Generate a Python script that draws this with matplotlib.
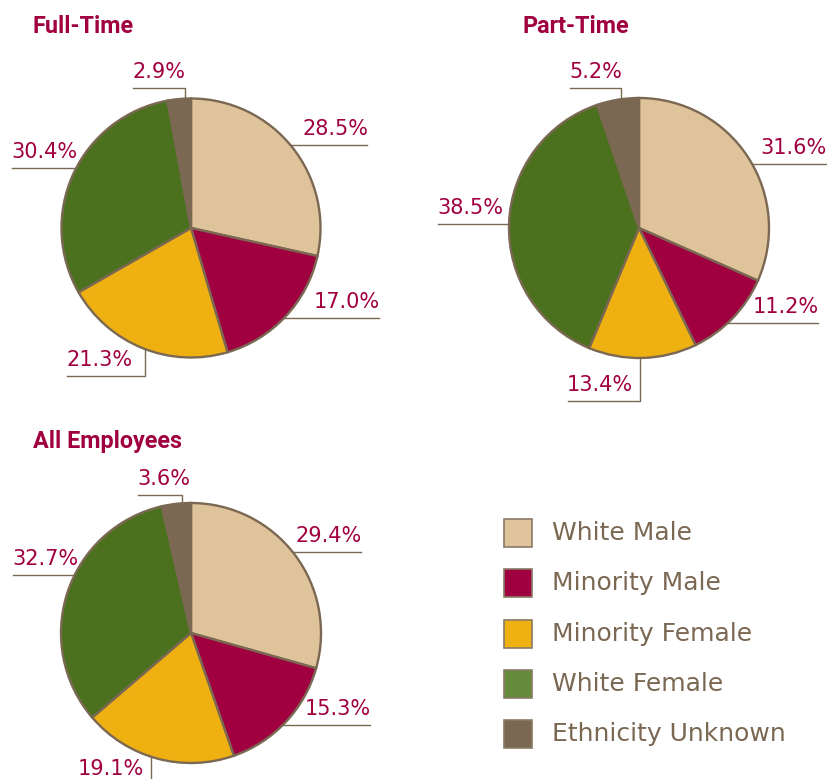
import numpy as np
import matplotlib.pyplot as plt
from matplotlib.patches import Rectangle

categories = ['White Male', 'Minority Male', 'Minority Female', 'White Female', 'Ethnicity Unknown']
full_time = [28.5, 17.0, 21.3, 30.4, 2.9]
part_time = [31.6, 11.2, 13.4, 38.5, 5.2]
all_employees = [29.4, 15.3, 19.1, 32.7, 3.6]

pie_colors = ['#dfc39a', '#a00040', '#efb112', '#4b711e', '#7b6853']
legend_colors = ['#dfc39a', '#a00040', '#efb112', '#648c3a', '#7b6853']
edge = '#7b6853'
red = '#a0003f'

W, H = 827, 779
fig = plt.figure(figsize=(W / 100, H / 100), dpi=100)
ax = fig.add_axes([0, 0, 1, 1])


def Y(y):
    # picture rows -> data y
    return H - y


# (title, values, title pos, centre, radius, leaders)
# leader: ('right', y_line, x_end) / ('left', y_line, x_start)
#         ('top'|'bottom', x_vert, y_line, x_start)
pies = [
    ('Full-Time', full_time, (33, 33), (191, 228), 129.5,
     [('right', 145, 367), ('right', 318, 379), ('bottom', 145, 376, 67),
      ('left', 168, 12), ('top', 185, 88, 133)]),
    ('Part-Time', part_time, (522, 33), (639, 228), 130,
     [('right', 164, 826), ('right', 323, 818), ('bottom', 640, 401, 568),
      ('left', 224, 438), ('top', 621, 88, 570)]),
    ('All Employees', all_employees, (33, 448), (191, 633), 130,
     [('right', 552, 361), ('right', 725, 370), ('bottom', 151, 785, 79),
      ('left', 575, 13), ('top', 182, 495, 138)]),
]

title_font = ['Roboto', 'DejaVu Sans']

for title, vals, tpos, (cx, cy), r, leaders in pies:
    ax.pie(vals, colors=pie_colors, center=(cx, Y(cy)), radius=r,
           startangle=90, counterclock=False,
           wedgeprops=dict(edgecolor=edge, linewidth=1.7))
    ax.text(tpos[0], Y(tpos[1]), title, fontsize=16.8, fontweight='bold',
            family=title_font, color=red, ha='left', va='baseline')
    for v, ld in zip(vals, leaders):
        lab = f'{v:.1f}%'
        kind = ld[0]
        if kind in ('right', 'left'):
            yl = ld[1]
            dx = np.sqrt(max(r ** 2 - (yl - cy) ** 2, 0))
            if kind == 'right':
                xe = cx + dx
                ax.plot([xe, ld[2]], [Y(yl), Y(yl)], color=edge, lw=1, zorder=0)
                ax.text(ld[2] + 1, Y(yl - 10), lab, ha='right', va='baseline',
                        fontsize=15, color=red)
            else:
                xe = cx - dx
                ax.plot([ld[2], xe], [Y(yl), Y(yl)], color=edge, lw=1, zorder=0)
                ax.text(ld[2] - 1, Y(yl - 10), lab, ha='left', va='baseline',
                        fontsize=15, color=red)
        else:
            xv, yl, xs = ld[1], ld[2], ld[3]
            dy = np.sqrt(max(r ** 2 - (xv - cx) ** 2, 0))
            ye = cy - dy if kind == 'top' else cy + dy
            ax.plot([xs, xv, xv], [Y(yl), Y(yl), Y(ye)], color=edge, lw=1, zorder=0)
            ax.text(xs - 1, Y(yl - 10), lab, ha='left', va='baseline',
                    fontsize=15, color=red)

# legend
for i, (name, col) in enumerate(zip(categories, legend_colors)):
    yc = 533 + 50.3 * i
    ax.add_patch(Rectangle((504, Y(yc + 14)), 28, 28, facecolor=col,
                           edgecolor='#8a7a66', linewidth=1.2))
    ax.text(552, Y(yc), name, fontsize=18, color=edge, ha='left', va='center')

ax.set_xlim(0, W)
ax.set_ylim(0, H)
ax.set_aspect('equal')
ax.axis('off')

fig.savefig('out.png', dpi=100)
